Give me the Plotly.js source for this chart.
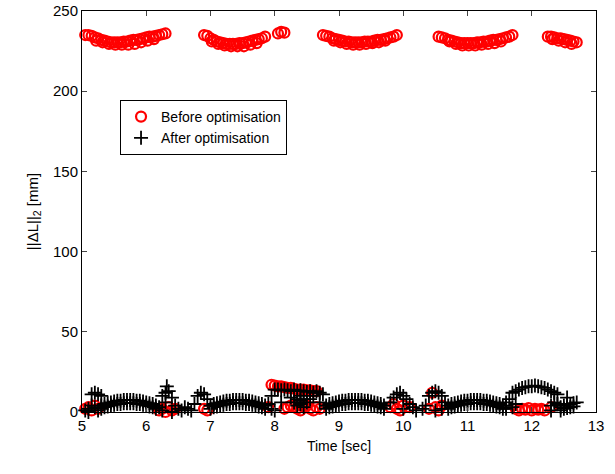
<!DOCTYPE html>
<html><head><meta charset="utf-8">
<script src="https://cdn.plot.ly/plotly-3.0.1.min.js"></script>
<style>body{margin:0;background:#fff}#chart{width:615px;height:474px}</style>
</head><body><div id="chart"></div>
<script>
// Before optimisation: upper arcs
const beforeTopX = [5.05,5.1,5.15,5.2,5.25,5.3,5.35,5.4,5.45,5.5,5.55,5.6,5.65,5.7,5.75,5.8,5.85,5.9,5.95,6.0,6.05,6.1,6.15,6.2,6.25,6.3,
 6.9,6.95,7.0,7.05,7.1,7.15,7.2,7.25,7.3,7.35,7.4,7.45,7.5,7.55,7.6,7.65,7.7,7.75,7.8,7.85,8.05,8.1,8.15,
 8.75,8.8,8.85,8.9,8.95,9.0,9.05,9.1,9.15,9.2,9.25,9.3,9.35,9.4,9.45,9.5,9.55,9.6,9.65,9.7,9.75,9.8,9.85,9.9,
 10.55,10.6,10.65,10.7,10.75,10.8,10.85,10.9,10.95,11.0,11.05,11.1,11.15,11.2,11.25,11.3,11.35,11.4,11.45,11.5,11.55,11.6,11.65,11.7,
 12.25,12.3,12.35,12.4,12.45,12.5,12.55,12.6,12.65,12.7];
const beforeTopY = [235,235,234.5,233.5,233,232,231.5,231,230.5,230.5,230.5,230.5,231,231,231.5,232,232,232.5,233,233.5,234,234,234.5,235,235.5,236,
 235,234.5,233,232,231,230.5,230,229.5,229.5,229.5,229.5,230,230,230.5,231,231.5,232,232.5,233,234,236,237,236.5,
 235,234.5,234,233,232.5,232,231.5,231,231,230.5,230.5,230.5,230.5,231,231,231,231.5,232,232,232.5,233,233.5,234,235,
 234,233.5,233,232,231.5,231,230.5,230,230,230,230,230,230.5,230.5,231,231,231.5,232,232,232.5,233,233.5,234,235,
 234,234,233.5,233,233,232.5,232,231.5,231,230.5];
// Before optimisation: second, slightly lower row of the upper arcs
const beforeTop2X = [5.22,5.32,5.42,5.52,5.62,5.72,5.82,5.92,6.02,6.12,
 7.02,7.12,7.22,7.32,7.42,7.52,7.62,7.72,
 8.92,9.02,9.12,9.22,9.32,9.42,9.52,9.62,9.72,
 10.72,10.82,10.92,11.02,11.12,11.22,11.32,11.42,11.52,
 12.32,12.42,12.52,12.62];
const beforeTop2Y = [231.5,230.5,229.5,229,229,229,229.5,230.5,231.5,232.5,
 231,229.5,228.5,228,228,228,229,230,
 231.5,230.5,229.5,229,229,229.5,230,230.5,231.5,
 231,229.5,228.5,228.5,228.5,229,229.5,230,231,
 232.5,231.5,230.5,229.5];
// Before optimisation: low values
const beforeLowX = [5.05,5.1,5.15,5.2,5.25,6.2,6.25,6.3,6.35,6.4,6.45,6.9,6.95,7.9,
 7.95,8.0,8.05,8.1,8.15,8.2,8.25,8.3,8.35,8.4,8.45,8.5,8.55,8.6,8.65,
 8.15,8.2,8.25,8.3,8.35,8.4,8.45,8.5,8.55,8.6,8.65,8.7,
 9.8,9.85,9.9,9.95,10.0,10.1,10.4,10.45,10.5,10.55,10.6,
 11.75,11.8,11.85,11.9,11.95,12.0,12.05,12.1,12.15,12.2,12.3];
const beforeLowY = [2,3,1,4,2,1,2,0,3,1,2,2,1,3,
 17,16.5,16,16,15.5,15,15,14.5,14,14,14,13.5,13.5,13,13,
 2,3,4,3,2,1,3,4,2,1,3,2,
 3,5,2,1,4,3,2,12,3,1,4,
 2,1,2,1.5,2.5,1,2,1.5,2,1,3];
// After optimisation
const afterX = [
 5.3,5.35,5.4,5.45,5.5,5.55,5.6,5.65,5.7,5.75,5.8,5.85,5.9,5.95,6.0,6.05,6.1,6.15,
 5.3,5.35,5.4,5.45,5.5,5.55,5.6,5.65,5.7,5.75,5.8,5.85,5.9,5.95,6.0,6.05,6.1,6.15,
 5.05,5.1,5.1,5.15,5.2,5.25,5.3,5.2,5.25,5.15,
 6.2,6.25,6.3,6.32,6.35,6.3,6.4,6.45,6.5,6.55,6.6,6.65,6.7,6.75,6.8,6.85,6.9,6.95,6.4,6.25,
 7.0,7.05,7.1,7.15,7.2,7.25,7.3,7.35,7.4,7.45,7.5,7.55,7.6,7.65,7.7,7.75,7.8,7.85,
 7.0,7.05,7.1,7.15,7.2,7.25,7.3,7.35,7.4,7.45,7.5,7.55,7.6,7.65,7.7,7.75,7.8,7.85,
 7.9,7.95,8.0,8.05,8.1,8.15,8.2,8.25,8.3,8.35,8.4,8.45,8.5,8.55,8.6,8.65,8.7,8.75,
 8.3,8.35,8.4,8.45,8.5,8.35,8.4,8.45,8.4,8.25,8.55,7.95,8.1,8.6,8.7,8.0,
 8.8,8.85,8.9,8.95,9.0,9.05,9.1,9.15,9.2,9.25,9.3,9.35,9.4,9.45,9.5,9.55,9.6,9.65,9.7,
 8.8,8.85,8.9,8.95,9.0,9.05,9.1,9.15,9.2,9.25,9.3,9.35,9.4,9.45,9.5,9.55,9.6,9.65,9.7,
 9.8,9.85,9.9,9.95,10.0,10.05,10.1,10.0,10.15,10.2,10.3,10.4,10.45,10.5,10.55,10.6,10.65,10.35,10.5,10.6,
 10.7,10.75,10.8,10.85,10.9,10.95,11.0,11.05,11.1,11.15,11.2,11.25,11.3,11.35,11.4,11.45,11.5,11.55,11.6,
 10.7,10.75,10.8,10.85,10.9,10.95,11.0,11.05,11.1,11.15,11.2,11.25,11.3,11.35,11.4,11.45,11.5,11.55,11.6,
 11.7,11.75,11.8,11.85,11.9,11.95,12.0,12.05,12.1,12.15,12.2,12.25,12.3,12.35,12.4,
 11.65,11.7,11.75,12.3,12.35,12.4,12.3,11.6,
 12.45,12.5,12.55,12.6,12.65,12.7,12.45,12.5,12.55,12.6,12.65,12.55];
const afterY = [
 4,5,5.5,6,6.5,7,7,7.5,7.5,7.5,7.5,7,7,6.5,6,5.5,5,4,
 2,3,3.5,4,4.5,5,5,5.5,5.5,5.5,5.5,5,5,4.5,4,3.5,3,2,
 1,2,0,11,12,11,10,3,1,4,
 3,10,12,16,13,6,9,4,2,1,3,2,1,5,10,12,11,8,0,1,
 4,5,5.5,6,6.5,7,7,7.5,7.5,7.5,7.5,7,7,6.5,6,5.5,5,4,
 2,3,3.5,4,4.5,5,5,5.5,5.5,5.5,5.5,5,5,4.5,4,3.5,3,2,
 5,10,14,14,13.5,14,13.5,13,14,13,13.5,13,12.5,13,12,13,12,11,
 6,8,10,8,6,4,5,3,7,9,8,2,6,10,6,1,
 4,5,5.5,6,6.5,7,7,7.5,7.5,7.5,7.5,7.5,7,7,6.5,6,5.5,5,4,
 2,3,3.5,4,4.5,5,5,5.5,5.5,5.5,5.5,5.5,5,5,4.5,4,3.5,3,2,
 6,9,11,12,10,8,5,2,3,1,2,10,12,13,12,10,6,4,1,2,
 4,5,5.5,6,6.5,7,7,7.5,7.5,7.5,7.5,7,7,6.5,6,5.5,5,4,4,
 2,3,3.5,4,4.5,5,5,5.5,5.5,5.5,5.5,5,5,4.5,4,3.5,3,2,2,
 12,13,14,15,15.5,16,16,16.5,16,15.5,15,14,13,12,11,
 8,3,5,4,6,5,1,6,
 3,4,4.5,5,5.5,6,1,2,2.5,3,3.5,9];

const redMarker = {symbol: 'circle-open', color: '#ff0000', size: 10, line: {width: 2.2, color: '#ff0000'}};
const data = [
 {x: beforeTopX.concat(beforeTop2X, beforeLowX), y: beforeTopY.concat(beforeTop2Y, beforeLowY),
  mode: 'markers', type: 'scatter', name: 'Before optimisation', cliponaxis: false, marker: redMarker},
 {x: afterX, y: afterY, mode: 'markers', type: 'scatter', name: 'After optimisation', cliponaxis: false,
  marker: {symbol: 'cross-thin-open', color: '#000000', size: 10, line: {width: 1.8, color: '#000000'}}}
];
const layout = {
 width: 615, height: 474,
 margin: {l: 82, r: 19, t: 11, b: 62},
 paper_bgcolor: '#fff', plot_bgcolor: '#fff',
 font: {family: 'Liberation Sans, Arial, sans-serif', size: 14, color: '#000'},
 showlegend: true,
 legend: {x: 0.074, y: 0.778, xanchor: 'left', yanchor: 'top', bordercolor: '#000', borderwidth: 1,
  bgcolor: '#fff', font: {size: 14}, tracegroupgap: 0, itemwidth: 30},
 xaxis: {range: [5, 13], dtick: 1, tick0: 5, ticks: 'inside', ticklen: 5, mirror: 'ticks', showline: true,
  linecolor: '#000', linewidth: 1, showgrid: false, zeroline: false, tickfont: {size: 15},
  title: {text: 'Time [sec]', font: {size: 14}, standoff: 8}},
 yaxis: {range: [0, 250], dtick: 50, ticks: 'inside', ticklen: 5, mirror: 'ticks', showline: true,
  linecolor: '#000', linewidth: 1, showgrid: false, zeroline: false, tickfont: {size: 15},
  title: {text: '||ΔL||<sub>2</sub> [mm]', font: {size: 15}, standoff: 10}}
};
Plotly.newPlot('chart', data, layout, {displayModeBar: false, staticPlot: true});
</script></body></html>
